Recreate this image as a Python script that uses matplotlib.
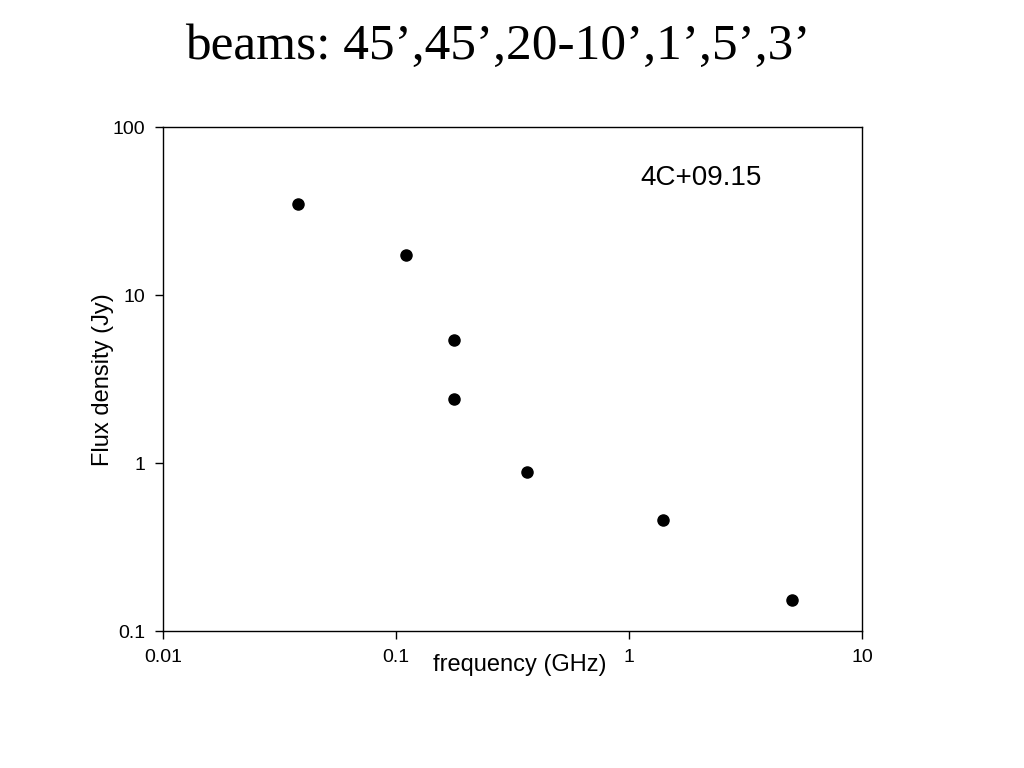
import matplotlib
matplotlib.use('Agg')
import matplotlib.pyplot as plt

# ------------------------------
# Data
# ------------------------------
freq_ghz = [0.038, 0.110, 0.178, 0.178, 0.365, 1.40, 5.0]
flux_jy = [35.0, 17.2, 5.4, 2.4, 0.89, 0.46, 0.153]
source_name = "4C+09.15"
title_text = "beams: 45\u2019,45\u2019,20-10\u2019,1\u2019,5\u2019,3\u2019"

x_ticks = [0.01, 0.1, 1, 10]
x_ticklabels = ["0.01", "0.1", "1", "10"]
y_ticks = [0.1, 1, 10, 100]
y_ticklabels = ["0.1", "1", "10", "100"]

plt.rcParams['font.family'] = ['Liberation Sans', 'DejaVu Sans']

fig = plt.figure(figsize=(10.24, 7.68), dpi=100)
ax = fig.add_axes([163/1024, 1 - 631/768, (862-163)/1024, (631-127)/768])

ax.plot(freq_ghz, flux_jy, 'o', color='black', markersize=8, linestyle='none')
ax.set_xscale('log')
ax.set_yscale('log')
ax.set_xlim(0.01, 10)
ax.set_ylim(0.1, 100)

ax.minorticks_off()
ax.set_xticks(x_ticks)
ax.set_xticklabels(x_ticklabels)
ax.set_yticks(y_ticks)
ax.set_yticklabels(y_ticklabels)
ax.tick_params(direction='out', length=6, width=1, labelsize=14, pad=7)
for s in ax.spines.values():
    s.set_linewidth(1)

# axis labels placed like the original slide
fig.text(103/1024, 1 - 380/768, "Flux density (Jy)", fontsize=17,
         rotation=90, ha='center', va='center')
fig.text(520/1024, 1 - 665/768, "frequency (GHz)", fontsize=17,
         ha='center', va='center')
fig.text(701/1024, 1 - 178/768, source_name, fontsize=20, ha='center', va='center')

fig.text(498/1024, 1 - 47/768, title_text, fontsize=37,
         family=['Liberation Serif', 'DejaVu Serif'], ha='center', va='center')

fig.savefig("out.png", dpi=100)
